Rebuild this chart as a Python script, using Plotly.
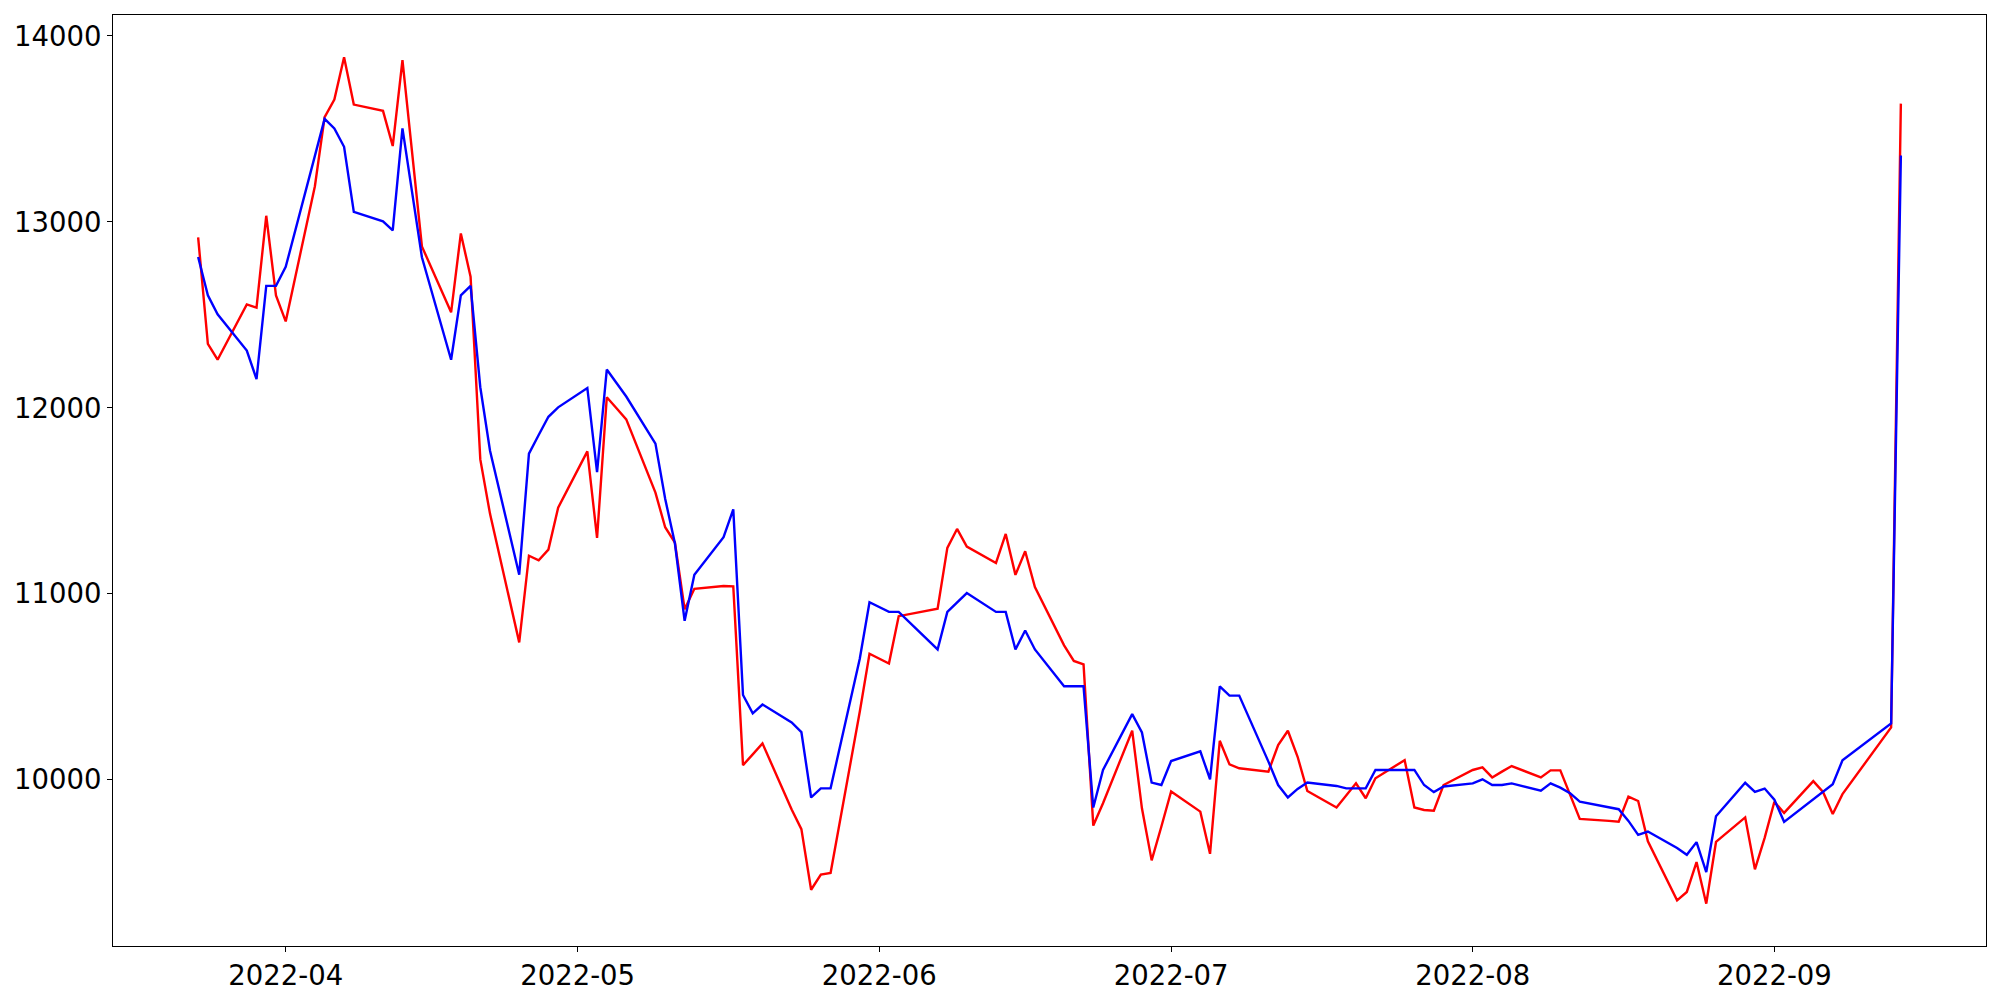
import plotly.graph_objects as go
import pandas as pd

dates = [
    "2022-03-23", "2022-03-24", "2022-03-25", "2022-03-28", "2022-03-29", "2022-03-30", "2022-03-31",
    "2022-04-01", "2022-04-04", "2022-04-05", "2022-04-06", "2022-04-07", "2022-04-08", "2022-04-11",
    "2022-04-12", "2022-04-13", "2022-04-15", "2022-04-18", "2022-04-19", "2022-04-20", "2022-04-21",
    "2022-04-22", "2022-04-25", "2022-04-26", "2022-04-27", "2022-04-28", "2022-04-29", "2022-05-02",
    "2022-05-03", "2022-05-04", "2022-05-05", "2022-05-06", "2022-05-09", "2022-05-10", "2022-05-11",
    "2022-05-12", "2022-05-13", "2022-05-16", "2022-05-17", "2022-05-18", "2022-05-19", "2022-05-20",
    "2022-05-23", "2022-05-24", "2022-05-25", "2022-05-26", "2022-05-27", "2022-05-30", "2022-05-31",
    "2022-06-01", "2022-06-02", "2022-06-03", "2022-06-07", "2022-06-08", "2022-06-09", "2022-06-10",
    "2022-06-13", "2022-06-14", "2022-06-15", "2022-06-16", "2022-06-17", "2022-06-20", "2022-06-21",
    "2022-06-22", "2022-06-23", "2022-06-24", "2022-06-27", "2022-06-28", "2022-06-29", "2022-06-30",
    "2022-07-01", "2022-07-04", "2022-07-05", "2022-07-06", "2022-07-07", "2022-07-08", "2022-07-11",
    "2022-07-12", "2022-07-13", "2022-07-14", "2022-07-15", "2022-07-18", "2022-07-19", "2022-07-20",
    "2022-07-21", "2022-07-22", "2022-07-25", "2022-07-26", "2022-07-27", "2022-07-28", "2022-07-29",
    "2022-08-01", "2022-08-02", "2022-08-03", "2022-08-04", "2022-08-05", "2022-08-08", "2022-08-09",
    "2022-08-10", "2022-08-11", "2022-08-12", "2022-08-15", "2022-08-16", "2022-08-17", "2022-08-18",
    "2022-08-19", "2022-08-22", "2022-08-23", "2022-08-24", "2022-08-25", "2022-08-26", "2022-08-29",
    "2022-08-30", "2022-08-31", "2022-09-01", "2022-09-02", "2022-09-05", "2022-09-06", "2022-09-07",
    "2022-09-08", "2022-09-13", "2022-09-14",
]

red_values = [
    12917, 12344, 12259, 12556, 12539, 13033, 12605,
    12465, 13192, 13563, 13658, 13885, 13631, 13597,
    13408, 13870, 12868, 12514, 12938, 12705, 11723,
    11430, 10739, 11205, 11180, 11238, 11463, 11766,
    11301, 12057, 11998, 11938, 11544, 11358, 11276,
    10917, 11027, 11042, 11040, 10079, 10137, 10196,
    9840, 9735, 9409, 9490, 9499, 10366, 10678,
    10651, 10625, 10880, 10920, 11247, 11349, 11254,
    11166, 11322, 11102, 11229, 11036, 10723, 10639,
    10621, 9754, 9874, 10264, 9847, 9567, 9749,
    9937, 9829, 9602, 10210, 10083, 10062, 10044,
    10187, 10264, 10124, 9940, 9851, 9919, 9981,
    9901, 10008, 10106, 9851, 9838, 9834, 9972,
    10053, 10067, 10013, 10044, 10074, 10013, 10051,
    10051, 9919, 9790, 9779, 9775, 9910, 9886,
    9669, 9352, 9397, 9558, 9334, 9666, 9798,
    9519, 9688, 9882, 9822, 9993, 9935, 9816,
    9923, 10282, 13636,
]

blue_values = [
    12811, 12605, 12503, 12308, 12155, 12656, 12656,
    12758, 13355, 13554, 13503, 13404, 13054, 13003,
    12954, 13503, 12810, 12259, 12605, 12656, 12111,
    11770, 11103, 11754, 11854, 11952, 12003, 12107,
    11655, 12206, 12134, 12061, 11808, 11511, 11272,
    10855, 11103, 11305, 11454, 10456, 10357, 10405,
    10309, 10257, 9905, 9954, 9954, 10651, 10955,
    10929, 10903, 10903, 10701, 10903, 10953, 11004,
    10903, 10903, 10701, 10803, 10701, 10503, 10503,
    10503, 9851, 10053, 10353, 10255, 9985, 9972,
    10101, 10153, 10003, 10503, 10453, 10453, 10098,
    9972, 9905, 9951, 9985, 9967, 9954, 9954,
    9954, 10053, 10053, 10053, 9972, 9934, 9964,
    9981, 10003, 9972, 9972, 9981, 9942, 9981,
    9958, 9928, 9883, 9853, 9842, 9779, 9704,
    9722, 9633, 9597, 9665, 9504, 9804, 9984,
    9935, 9953, 9893, 9774, 9893, 9935, 9976,
    10105, 10303, 13357,
]

x = pd.to_datetime(dates)

fig = go.Figure()
fig.add_trace(go.Scatter(x=x, y=red_values, mode="lines",
                         line=dict(color="#ff0000", width=2.4), showlegend=False))
fig.add_trace(go.Scatter(x=x, y=blue_values, mode="lines",
                         line=dict(color="#0000ff", width=2.4), showlegend=False))

# matplotlib-like 5% margins
x0, x1 = x.min(), x.max()
xpad = (x1 - x0) * 0.05
allv = red_values + blue_values
vmin, vmax = min(allv), max(allv)
ypad = (vmax - vmin) * 0.05

font = dict(family="DejaVu Sans", size=27.5, color="black")

# page body has an 8px default margin, so the figure is sized/offset to compensate
fig.update_layout(
    width=1992, height=992, autosize=False,
    margin=dict(l=105, r=14, t=7, b=54, pad=0),
    paper_bgcolor="white", plot_bgcolor="white",
    font=font,
    showlegend=False,
)
fig.update_xaxes(
    type="date", range=[x0 - xpad, x1 + xpad], automargin=False,
    tick0="2022-04-01", dtick="M1", tickformat="%Y-%m",
    ticks="outside", ticklen=5, tickwidth=1.1, tickcolor="black",
    showline=True, mirror=True, linecolor="black", linewidth=1.1,
    showgrid=False, zeroline=False, tickfont=font,
)
fig.update_yaxes(
    range=[vmin - ypad, vmax + ypad], automargin=False,
    tick0=10000, dtick=1000, tickformat="d",
    ticks="outside", ticklen=5, tickwidth=1.1, tickcolor="black",
    showline=True, mirror=True, linecolor="black", linewidth=1.1,
    showgrid=False, zeroline=False, tickfont=font,
)

fig.write_html("out.html")
